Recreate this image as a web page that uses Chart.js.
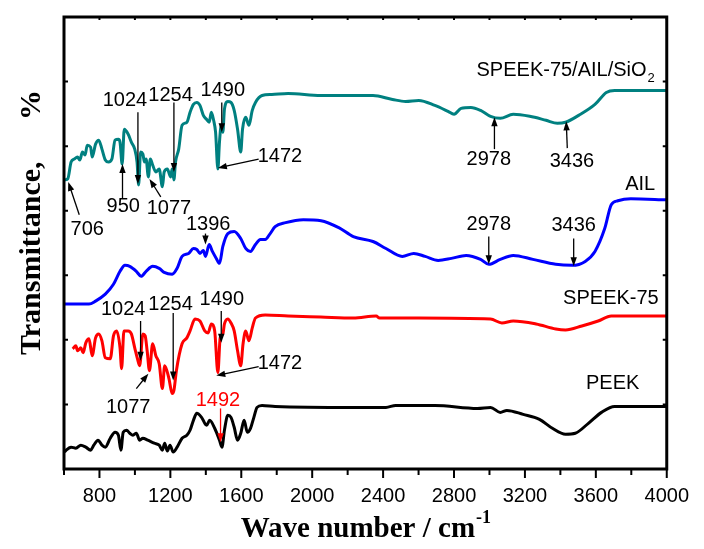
<!DOCTYPE html>
<html>
<head>
<meta charset="utf-8">
<script src="https://cdn.jsdelivr.net/npm/chart.js@4.4.0/dist/chart.umd.min.js"></script>
<style>
  body { margin: 0; background: #fff; }
</style>
</head>
<body>
<canvas id="ftirChart" width="704" height="549"></canvas>
<script>
// Spectra, [wave number, transmittance (a.u., stacked offsets)]
const speekAilSio2 = [[603,291],[621,292],[640,309],[658,312],[676,314],[689,311],[704,319],[719,316],[731,326],[750,324],[759,314],[778,327],[796,331],[814,322],[833,311],[851,309],[870,312],[888,331],[907,332],[916,329],[928,307],[940,342],[962,337],[980,329],[999,322],[1012,309],[1021,286],[1032,319],[1045,317],[1054,309],[1063,312],[1076,294],[1087,312],[1100,306],[1118,299],[1137,302],[1155,284],[1165,299],[1183,302],[1201,294],[1210,302],[1220,291],[1229,309],[1247,322],[1266,346],[1293,349],[1311,359],[1330,367],[1349,369],[1367,366],[1386,356],[1404,352],[1419,349],[1431,359],[1444,351],[1455,339],[1468,302],[1477,329],[1487,346],[1496,339],[1505,362],[1524,370],[1542,369],[1560,361],[1579,342],[1597,319],[1607,342],[1625,354],[1643,346],[1662,361],[1680,369],[1717,376],[1772,377],[1864,378],[2048,376],[2232,376],[2343,376],[2453,372],[2527,370],[2601,371],[2692,366],[2766,360],[2800,357],[2840,363],[2895,364],[2950,361],[3006,355],[3061,353],[3134,357],[3227,355],[3319,351],[3383,348],[3429,349],[3503,356],[3595,367],[3659,379],[3706,381],[3797,381],[4000,381]];

const ail = [[603,166],[741,166],[778,169],[833,176],[879,186],[916,199],[944,205],[971,204],[1008,199],[1035,194],[1063,199],[1100,204],[1137,202],[1165,198],[1210,196],[1238,202],[1266,214],[1303,217],[1330,222],[1349,221],[1367,217],[1386,220],[1398,214],[1419,226],[1437,219],[1459,212],[1477,207],[1496,224],[1524,237],[1560,239],[1597,232],[1625,222],[1652,219],[1680,226],[1708,231],[1735,231],[1763,237],[1791,244],[1850,248],[1950,251],[2050,250],[2150,243],[2232,234],[2343,229],[2416,222],[2508,214],[2573,217],[2637,214],[2711,210],[2785,212],[2868,215],[2950,211],[2996,206],[3061,211],[3134,215],[3245,211],[3374,206],[3466,205],[3540,209],[3595,219],[3650,242],[3687,266],[3724,270],[3797,272],[4000,271]];

const speek75 = [[649,121],[667,124],[676,119],[695,122],[708,117],[723,127],[741,131],[759,114],[778,132],[796,136],[814,129],[833,112],[861,111],[879,134],[897,139],[916,122],[925,101],[938,139],[962,139],[980,136],[999,122],[1013,112],[1027,104],[1045,136],[1058,134],[1069,119],[1082,99],[1100,126],[1118,114],[1137,106],[1155,81],[1168,104],[1192,91],[1210,76],[1220,79],[1234,99],[1266,126],[1293,132],[1311,139],[1339,151],[1367,149],[1394,139],[1413,137],[1431,146],[1450,139],[1468,97],[1481,132],[1496,136],[1505,146],[1524,151],[1542,147],[1560,139],[1579,119],[1597,104],[1610,126],[1625,139],[1643,129],[1662,142],[1680,152],[1735,155],[1864,154],[2048,153],[2232,152],[2361,154],[2380,152],[2601,152],[3006,151],[3070,147],[3134,149],[3263,146],[3374,141],[3429,140],[3521,144],[3613,149],[3687,154],[4000,154]];

const peek = [[603,17],[612,19],[640,22],[667,21],[695,24],[723,22],[750,19],[768,24],[792,29],[814,24],[833,22],[861,31],[888,37],[907,34],[921,19],[934,37],[953,39],[971,36],[989,34],[1008,36],[1027,29],[1045,31],[1072,29],[1109,26],[1137,24],[1155,19],[1168,26],[1183,18],[1198,24],[1216,17],[1238,22],[1266,31],[1293,34],[1311,39],[1330,49],[1349,56],[1376,52],[1404,44],[1422,49],[1450,41],[1477,29],[1491,22],[1505,39],[1524,54],[1542,52],[1560,42],[1579,29],[1597,36],[1616,49],[1634,37],[1652,41],[1671,52],[1689,62],[1717,64],[1791,63],[2232,62],[2416,62],[2471,64],[2692,64],[2932,61],[3006,62],[3061,57],[3098,59],[3190,55],[3282,50],[3355,41],[3429,35],[3484,36],[3558,46],[3632,57],[3706,63],[4000,63]];

// x axis
const xMin = 600, xMax = 4000, xStep = 200;
const xLabels = [800, 1200, 1600, 2000, 2400, 2800, 3200, 3600, 4000];
const yMin = 0, yMax = 455, yStep = 65;

// series names (text, wave number, level)
const seriesNames = [
    { t: 'SPEEK-75/AIL/SiO', sub: '2', x: 3427, y: 401 },
    { t: 'AIL', x: 3850, y: 286 },
    { t: 'SPEEK-75', x: 3685, y: 172 },
    { t: 'PEEK', x: 3695, y: 86 }
];

// peak labels with arrows (text pos, arrow from -> to), in data units
const peakMarks = [
    { t: '706',  x: 731,  y: 241, from: [686, 256],  to: [624, 289] },
    { t: '950',  x: 934,  y: 264, from: [930, 272],  to: [930, 307] },
    { t: '1024', x: 944,  y: 371, from: [1017, 359], to: [1017, 287] },
    { t: '1077', x: 1192, y: 262, from: [1146, 274], to: [1082, 292] },
    { t: '1254', x: 1201, y: 376, from: [1220, 369], to: [1220, 299] },
    { t: '1490', x: 1496, y: 381, from: [1490, 369], to: [1490, 339] },
    { t: '1472', x: 1818, y: 315, from: [1698, 312], to: [1468, 303] },
    { t: '2978', x: 2996, y: 312, from: [3028, 322], to: [3028, 354] },
    { t: '3436', x: 3465, y: 310, from: [3439, 323], to: [3433, 350] },
    { t: '1396', x: 1413, y: 246, from: [1398, 237], to: [1398, 226] },
    { t: '2978', x: 2996, y: 246, from: [2996, 234], to: [2996, 206] },
    { t: '3436', x: 3475, y: 245, from: [3475, 232], to: [3475, 204] },
    { t: '1024', x: 934,  y: 161, from: [1032, 149], to: [1032, 109] },
    { t: '1254', x: 1201, y: 166, from: [1216, 157], to: [1216, 89] },
    { t: '1490', x: 1490, y: 171, from: [1487, 159], to: [1487, 127] },
    { t: '1472', x: 1818, y: 106, from: [1698, 103], to: [1459, 94] },
    { t: '1077', x: 962,  y: 62,  from: [1008, 81],  to: [1076, 96] },
    { t: '1492', x: 1468, y: 69,  from: [1483, 61],  to: [1483, 27], color: '#ff0000' }
];

function toPoints(arr) {
    return arr.map(p => ({ x: p[0], y: p[1] }));
}

function drawArrow(ctx, x1, y1, x2, y2, color) {
    const ang = Math.atan2(y2 - y1, x2 - x1);
    const len = 9, half = 3.2;
    ctx.strokeStyle = color;
    ctx.fillStyle = color;
    ctx.lineWidth = 1.3;
    ctx.beginPath();
    ctx.moveTo(x1, y1);
    ctx.lineTo(x2 - Math.cos(ang) * len * 0.8, y2 - Math.sin(ang) * len * 0.8);
    ctx.stroke();
    ctx.beginPath();
    ctx.moveTo(x2, y2);
    ctx.lineTo(x2 - Math.cos(ang) * len - Math.sin(ang) * half, y2 - Math.sin(ang) * len + Math.cos(ang) * half);
    ctx.lineTo(x2 - Math.cos(ang) * len + Math.sin(ang) * half, y2 - Math.sin(ang) * len - Math.cos(ang) * half);
    ctx.closePath();
    ctx.fill();
}

// frame, ticks, labels, titles
const decoPlugin = {
    id: 'deco',
    afterDraw(chart) {
        const { ctx, chartArea: a, scales: { x, y } } = chart;
        ctx.save();

        // ticks
        ctx.strokeStyle = '#000';
        ctx.lineWidth = 2;
        for (let v = xMin; v <= xMax; v += xStep) {
            const px = x.getPixelForValue(v);
            const major = xLabels.includes(v);
            ctx.beginPath();
            ctx.moveTo(px, a.bottom);
            ctx.lineTo(px, a.bottom + (major ? 9 : 6));
            ctx.stroke();
            ctx.beginPath();
            ctx.moveTo(px, a.top);
            ctx.lineTo(px, a.top + 3);
            ctx.stroke();
        }
        for (let v = yMin + yStep; v < yMax; v += yStep) {
            const py = y.getPixelForValue(v);
            ctx.beginPath();
            ctx.moveTo(a.left, py);
            ctx.lineTo(a.left + 4, py);
            ctx.moveTo(a.right, py);
            ctx.lineTo(a.right - 4, py);
            ctx.stroke();
        }

        // frame
        ctx.lineWidth = 3;
        ctx.strokeRect(a.left, a.top, a.right - a.left, a.bottom - a.top);

        // peak labels
        ctx.font = '20px "Liberation Sans", Arial, sans-serif';
        ctx.textAlign = 'center';
        ctx.textBaseline = 'middle';
        peakMarks.forEach(m => {
            const c = m.color || '#000';
            ctx.fillStyle = c;
            ctx.fillText(m.t, x.getPixelForValue(m.x), y.getPixelForValue(m.y));
            drawArrow(ctx,
                x.getPixelForValue(m.from[0]), y.getPixelForValue(m.from[1]),
                x.getPixelForValue(m.to[0]), y.getPixelForValue(m.to[1]), c);
        });

        // series names
        ctx.fillStyle = '#000';
        seriesNames.forEach(s => {
            const px = x.getPixelForValue(s.x);
            const py = y.getPixelForValue(s.y);
            ctx.font = '20px "Liberation Sans", Arial, sans-serif';
            const w1 = ctx.measureText(s.t).width;
            let w2 = 0;
            if (s.sub) {
                ctx.font = '13px "Liberation Sans", Arial, sans-serif';
                w2 = ctx.measureText(s.sub).width;
            }
            const x0 = px - (w1 + w2) / 2;
            ctx.textAlign = 'left';
            ctx.font = '20px "Liberation Sans", Arial, sans-serif';
            ctx.fillText(s.t, x0, py);
            if (s.sub) {
                ctx.font = '13px "Liberation Sans", Arial, sans-serif';
                ctx.fillText(s.sub, x0 + w1 + 1, py + 8);
            }
        });

        // x title
        ctx.textBaseline = 'alphabetic';
        ctx.textAlign = 'left';
        ctx.font = 'bold 29px "Liberation Serif", "Times New Roman", serif';
        const xt = 'Wave number / cm';
        const wx1 = ctx.measureText(xt).width;
        ctx.font = 'bold 18px "Liberation Serif", "Times New Roman", serif';
        const wx2 = ctx.measureText('-1').width;
        const cx = (a.left + a.right) / 2;
        const bx = cx - (wx1 + wx2) / 2;
        ctx.font = 'bold 29px "Liberation Serif", "Times New Roman", serif';
        ctx.fillText(xt, bx, 537);
        ctx.font = 'bold 18px "Liberation Serif", "Times New Roman", serif';
        ctx.fillText('-1', bx + wx1 + 1, 523);

        // y title
        ctx.translate(40, 355);
        ctx.rotate(-Math.PI / 2);
        ctx.font = 'bold 30px "Liberation Serif", "Times New Roman", serif';
        ctx.textAlign = 'left';
        ctx.fillText('Transmittance,', 0, 0);
        ctx.textAlign = 'center';
        ctx.fillText('%', 250, 0);

        ctx.restore();
    }
};

const lineStyle = { pointRadius: 0, borderWidth: 3, fill: false, cubicInterpolationMode: 'monotone' };

new Chart(document.getElementById('ftirChart'), {
    type: 'line',
    data: {
        datasets: [
            { label: 'SPEEK-75/AIL/SiO2', data: toPoints(speekAilSio2), borderColor: '#008080', ...lineStyle },
            { label: 'AIL', data: toPoints(ail), borderColor: '#0000ff', ...lineStyle },
            { label: 'SPEEK-75', data: toPoints(speek75), borderColor: '#ff0000', ...lineStyle },
            { label: 'PEEK', data: toPoints(peek), borderColor: '#000000', ...lineStyle }
        ]
    },
    options: {
        responsive: false,
        animation: false,
        devicePixelRatio: 1,
        layout: { padding: { top: 17, right: 24, left: 0, bottom: 0 } },
        plugins: {
            legend: { display: false },
            tooltip: { enabled: false }
        },
        scales: {
            x: {
                type: 'linear',
                min: xMin,
                max: xMax,
                border: { display: false },
                grid: { display: false, drawTicks: false },
                ticks: {
                    stepSize: xStep,
                    autoSkip: false,
                    maxRotation: 0,
                    padding: 15,
                    color: '#000',
                    font: { family: '"Liberation Sans", Arial, sans-serif', size: 20 },
                    callback: v => xLabels.includes(v) ? String(v) : ''
                },
                afterFit: s => { s.height = 80; }
            },
            y: {
                min: yMin,
                max: yMax,
                border: { display: false },
                grid: { display: false, drawTicks: false },
                ticks: { display: false, stepSize: yStep },
                afterFit: s => { s.width = 64; }
            }
        }
    },
    plugins: [decoPlugin]
});
</script>
</body>
</html>
